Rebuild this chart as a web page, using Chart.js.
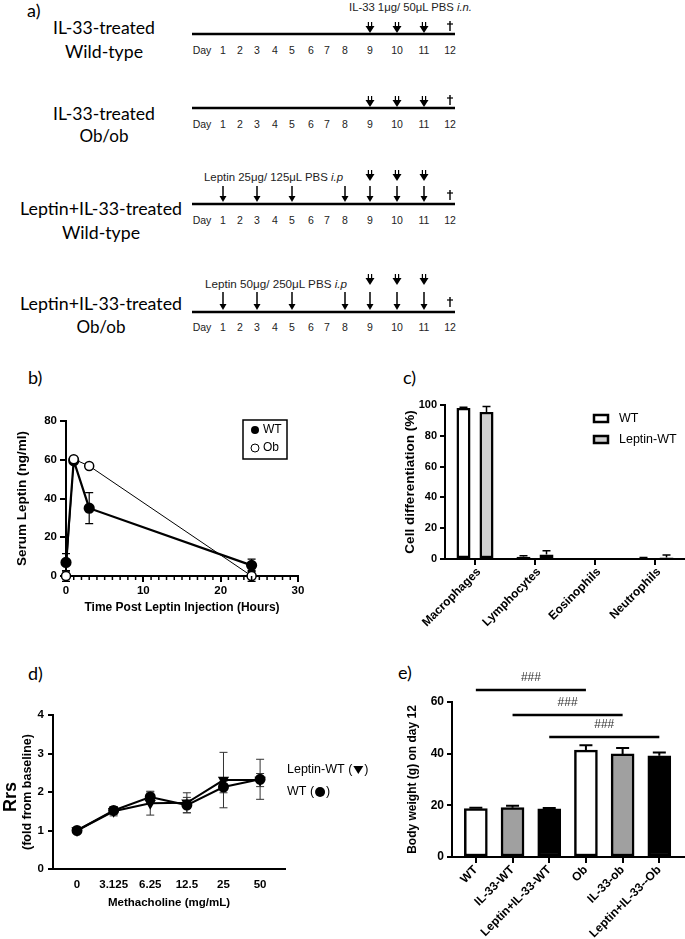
<!DOCTYPE html>
<html>
<head>
<meta charset="utf-8">
<script src="https://cdn.jsdelivr.net/npm/chart.js@4/dist/chart.umd.min.js"></script>
<style>
  body { margin: 0; background: #fff; width: 685px; height: 939px; position: relative; overflow: hidden; }
  svg, canvas { position: absolute; }
</style>
</head>
<body>
<svg id="sch" width="685" height="939" style="left:0;top:0"></svg>
<canvas id="cb" width="340" height="240" style="left:0;top:380px"></canvas>
<canvas id="cc" width="345" height="260" style="left:340px;top:370px"></canvas>
<canvas id="cd" width="385" height="280" style="left:0;top:640px"></canvas>
<canvas id="ce" width="300" height="299" style="left:385px;top:640px"></canvas>
<script>
// ---- a) dosing schedule ----
const dayLabels = ['Day', '1', '2', '3', '4', '5', '6', '7', '8', '9', '10', '11', '12'];
const il33Days = [9, 10, 11];
const leptinDays = [1, 3, 5, 8, 9, 10, 11];

// ---- b) serum leptin ----
const hoursWT = [0, 1, 3, 24];
const leptinWT = [7, 59.5, 35, 5.5];
const leptinWTErr = [4.5, 1, 8, 3.2];
const hoursOb = [0, 1, 3, 24];
const leptinOb = [0, 60.3, 56.8, 0];
const leptinObErr = [2.8, 0.5, 0.5, 2.8];

// ---- c) cell differentiation ----
const cellTypes = ['Macrophages', 'Lymphocytes', 'Eosinophils', 'Neutrophils'];
const cellWT = [98, 1.5, 0, 0.5];
const cellWTErr = [0.6, 0.6, 0, 0.5];
const cellLep = [95.5, 3, 0, 1];
const cellLepErr = [3.5, 2.3, 0, 1.6];

// ---- d) airway resistance ----
const mchDoses = ['0', '3.125', '6.25', '12.5', '25', '50'];
const rrsWT = [1, 1.52, 1.87, 1.66, 2.13, 2.33];
const rrsWTErr = [0.02, 0.1, 0.13, 0.2, 0.15, 0.52];
const rrsLep = [1, 1.5, 1.71, 1.72, 2.31, 2.31];
const rrsLepErr = [0.02, 0.12, 0.31, 0.26, 0.72, 0.17];

// ---- e) body weight ----
const groups = ['WT', 'IL-33-WT', 'Leptin+IL-33-WT', 'Ob', 'IL-33-ob', 'Leptin+IL-33--Ob'];
const weight = [18.7, 19.1, 18.6, 41.4, 39.9, 39.2];
const weightErr = [0.4, 0.7, 0.4, 1.9, 2.3, 1.3];
const sigPairs = [[0, 3], [1, 4], [2, 5]];
const sigLabels = ['###', '###', '###'];
const sigLevels = [64.6, 55, 46.5];

/*------------------------------------ SCHEMATIC -----------------------------------*/
const svg = document.getElementById('sch');
function add(tag, attrs, text, parent) {
    const n = document.createElementNS('http://www.w3.org/2000/svg', tag);
    for (const k in attrs) n.setAttribute(k, attrs[k]);
    if (text != null) n.textContent = text;
    (parent || svg).appendChild(n);
    return n;
}
const dayX = [202, 223, 240, 257, 275, 292, 311, 327, 345, 370, 397, 424, 450];
const LABEL_FONT = "Lato, 'Open Sans', sans-serif";
const NARROW = "'Liberation Sans Narrow', 'Liberation Sans', Arial, sans-serif";

function label(txt, x, y, w) {
    add('text', { x: x, y: y, 'font-family': LABEL_FONT, 'font-size': 18, 'text-anchor': 'middle',
        'dominant-baseline': 'central', textLength: w, lengthAdjust: 'spacingAndGlyphs', fill: '#000' }, txt);
}
function note(txt, it, x, y, w) {
    const t = add('text', { x: x, y: y, 'font-family': NARROW, 'font-size': 11.5, 'dominant-baseline': 'central',
        textLength: w, lengthAdjust: 'spacingAndGlyphs', fill: '#222' });
    add('tspan', {}, txt, t);
    add('tspan', { 'font-style': 'italic' }, it, t);
}
function dblArrow(x, y0) {
    add('line', { x1: x - 1.6, y1: y0, x2: x - 1.6, y2: y0 + 5, stroke: '#000', 'stroke-width': 1.2 });
    add('line', { x1: x + 1.6, y1: y0, x2: x + 1.6, y2: y0 + 5, stroke: '#000', 'stroke-width': 1.2 });
    add('polygon', { points: `${x - 4.5},${y0 + 4} ${x + 4.5},${y0 + 4} ${x},${y0 + 11}`, fill: '#000' });
}
function arrow(x, y0, y1) {
    add('line', { x1: x, y1: y0, x2: x, y2: y1 - 5, stroke: '#000', 'stroke-width': 1.5 });
    add('polygon', { points: `${x - 3.5},${y1 - 6} ${x + 3.5},${y1 - 6} ${x},${y1}`, fill: '#000' });
}
function dagger(x, y) {
    add('line', { x1: x, y1: y - 5, x2: x, y2: y + 5, stroke: '#000', 'stroke-width': 1.4 });
    add('line', { x1: x - 3, y1: y - 2, x2: x + 3, y2: y - 2, stroke: '#000', 'stroke-width': 1.2 });
}

const rows = [
    { l1: 'IL-33-treated', w1: 102, l2: 'Wild-type', w2: 78, cx: 104, ly: [27, 51], lineY: 34, dblY: 22, dagY: 26, daysY: 50,
      note: ['IL-33 1μg/ 50μL PBS ', 'i.n.', 349, 7, 123] },
    { l1: 'IL-33-treated', w1: 102, l2: 'Ob/ob', w2: 49, cx: 104, ly: [113, 135], lineY: 108, dblY: 96, dagY: 100, daysY: 124 },
    { l1: 'Leptin+IL-33-treated', w1: 162, l2: 'Wild-type', w2: 78, cx: 101, ly: [208, 232], lineY: 204, dblY: 170, singleY: [186, 202], dagY: 195, daysY: 220,
      note: ['Leptin 25μg/ 125μL PBS ', 'i.p', 204, 177, 139] },
    { l1: 'Leptin+IL-33-treated', w1: 162, l2: 'Ob/ob', w2: 49, cx: 101, ly: [303, 326], lineY: 312, dblY: 274, singleY: [292, 310], dagY: 302, daysY: 327,
      note: ['Leptin 50μg/ 250μL PBS ', 'i.p', 205, 284, 142] }
];

rows.forEach(r => {
    label(r.l1, r.cx, r.ly[0], r.w1);
    label(r.l2, r.cx, r.ly[1], r.w2);
    add('line', { x1: 192, y1: r.lineY, x2: 455, y2: r.lineY, stroke: '#000', 'stroke-width': 2.6 });
    dayLabels.forEach((d, i) => {
        add('text', { x: dayX[i], y: r.daysY, 'font-family': NARROW, 'font-size': 10.5, 'text-anchor': 'middle',
            'dominant-baseline': 'central', fill: '#222' }, d);
    });
    il33Days.forEach(d => dblArrow(dayX[d], r.dblY));
    if (r.singleY) leptinDays.forEach(d => arrow(dayX[d], r.singleY[0], r.singleY[1]));
    dagger(450, r.dagY);
    if (r.note) note(r.note[0], r.note[1], r.note[2], r.note[3], r.note[4]);
});

// panel letters
[['a)', 27, 10], ['b)', 28, 377], ['c)', 403, 377], ['d)', 28, 673], ['e)', 398, 672]].forEach(p => {
    add('text', { x: p[1], y: p[2], 'font-family': LABEL_FONT, 'font-size': 18, 'dominant-baseline': 'central', fill: '#000' }, p[0]);
});

/*------------------------------------ CHART HELPERS -----------------------------------*/
Chart.defaults.font.family = "'Liberation Sans', Arial, sans-serif";
Chart.defaults.color = '#000';

const errorBars = {
    id: 'errorBars',
    paint(chart, front) {
        const ctx = chart.ctx, ys = chart.scales.y;
        chart.data.datasets.forEach((ds, i) => {
            if (!ds.err || !!ds.errFront !== front) return;
            const meta = chart.getDatasetMeta(i);
            const cap = ds.capW || 4;
            ctx.save();
            ctx.strokeStyle = ds.errColor || '#000';
            ctx.lineWidth = ds.errWidth || 1;
            meta.data.forEach((pt, j) => {
                const e = ds.err[j];
                if (!e) return;
                const raw = ds.data[j];
                const v = typeof raw === 'object' ? raw.y : raw;
                const yTop = ys.getPixelForValue(v + e);
                const yBot = ds.errUpOnly ? pt.y : ys.getPixelForValue(v - e);
                ctx.beginPath();
                ctx.moveTo(pt.x, yBot); ctx.lineTo(pt.x, yTop);
                ctx.moveTo(pt.x - cap, yTop); ctx.lineTo(pt.x + cap, yTop);
                if (!ds.errUpOnly) { ctx.moveTo(pt.x - cap, yBot); ctx.lineTo(pt.x + cap, yBot); }
                ctx.stroke();
            });
            ctx.restore();
        });
    },
    beforeDatasetsDraw(chart) { this.paint(chart, false); },
    afterDatasetsDraw(chart) { this.paint(chart, true); }
};

function axis(o) {
    return Object.assign({
        grid: { drawOnChartArea: false, color: '#000', lineWidth: 2, tickWidth: 2, tickLength: 5 },
        border: { color: '#000', width: 2 }
    }, o);
}
const bold = s => ({ size: s, weight: 'bold' });

/*------------------------------------ b) -----------------------------------*/
new Chart(document.getElementById('cb'), {
    type: 'line',
    data: {
        datasets: [
            { label: 'Ob', data: hoursOb.map((h, i) => ({ x: h, y: leptinOb[i] })), err: leptinObErr, errWidth: 1.2,
              borderColor: '#000', borderWidth: 1, pointRadius: 4.5, pointBackgroundColor: '#fff',
              pointBorderColor: '#000', pointBorderWidth: 1.5, clip: false },
            { label: 'WT', data: hoursWT.map((h, i) => ({ x: h, y: leptinWT[i] })), err: leptinWTErr, errWidth: 1.2,
              borderColor: '#000', borderWidth: 2.2, pointRadius: 4.5, pointBackgroundColor: '#000',
              pointBorderColor: '#000', clip: false }
        ]
    },
    options: {
        responsive: false, animation: false,
        layout: { padding: { left: 0, top: 41, right: 42, bottom: 0 } },
        plugins: { legend: { display: false }, tooltip: { enabled: false } },
        scales: {
            x: axis({ type: 'linear', min: 0, max: 30,
                grid: { drawOnChartArea: false, color: '#000', lineWidth: 2, tickWidth: 2, tickLength: 6 },
                ticks: { stepSize: 10, font: bold(11.5), color: '#000', padding: 2 },
                title: { display: true, text: 'Time Post Leptin Injection (Hours)', font: bold(12), color: '#000', padding: { top: 0, bottom: 5 } },
                afterFit: s => { s.height = 44; } }),
            y: axis({ min: 0, max: 80,
                ticks: { stepSize: 20, font: bold(11.5), color: '#000', padding: 3 },
                grid: { drawOnChartArea: false, color: '#000', lineWidth: 2, tickWidth: 2, tickLength: 6 },
                title: { display: true, text: 'Serum Leptin (ng/ml)', font: bold(13.5), color: '#000', padding: { top: 14, bottom: 0 } },
                afterFit: s => { s.width = 66; } })
        }
    },
    plugins: [errorBars, {
        id: 'minorAndLegend',
        afterDraw(chart) {
            const ctx = chart.ctx, xs = chart.scales.x, y0 = chart.chartArea.bottom;
            ctx.save();
            ctx.strokeStyle = '#000'; ctx.lineWidth = 1.5;
            for (let v = 1; v < 30; v++) {
                if (v % 10 === 0) continue;
                const px = xs.getPixelForValue(v);
                ctx.beginPath(); ctx.moveTo(px, y0); ctx.lineTo(px, y0 + 4); ctx.stroke();
            }
            // boxed legend
            ctx.lineWidth = 1.5;
            ctx.strokeRect(243, 40, 44, 39);
            ctx.beginPath(); ctx.arc(255, 50, 4, 0, Math.PI * 2); ctx.fillStyle = '#000'; ctx.fill();
            ctx.beginPath(); ctx.arc(255, 68, 4, 0, Math.PI * 2); ctx.lineWidth = 1; ctx.stroke();
            ctx.font = "12px 'Liberation Sans', Arial"; ctx.textBaseline = 'middle'; ctx.fillStyle = '#000';
            ctx.fillText('WT', 263, 50);
            ctx.fillText('Ob', 263, 68);
            ctx.restore();
        }
    }]
});

/*------------------------------------ c) -----------------------------------*/
new Chart(document.getElementById('cc'), {
    type: 'bar',
    data: {
        labels: cellTypes,
        datasets: [
            { label: 'WT', data: cellWT, err: cellWTErr, errUpOnly: true, errFront: true, errWidth: 1.5,
              backgroundColor: '#fff', borderColor: '#000', borderWidth: 2.5, borderSkipped: false,
              barPercentage: 0.61, categoryPercentage: 0.767 },
            { label: 'Leptin-WT', data: cellLep, err: cellLepErr, errUpOnly: true, errFront: true, errWidth: 1.5,
              backgroundColor: '#d0d0d0', borderColor: '#000', borderWidth: 2.5, borderSkipped: false,
              barPercentage: 0.61, categoryPercentage: 0.767 }
        ]
    },
    options: {
        responsive: false, animation: false,
        layout: { padding: { left: 60, top: 35, right: 0, bottom: 0 } },
        plugins: { legend: { display: false }, tooltip: { enabled: false } },
        scales: {
            x: axis({
                grid: { drawOnChartArea: false, offset: false, color: '#000', lineWidth: 2, tickWidth: 2, tickLength: 6 },
                ticks: { display: false },
                afterFit: s => { s.height = 71; } }),
            y: axis({ min: 0, max: 100,
                ticks: { stepSize: 20, font: bold(11), color: '#000', padding: 3 },
                title: { display: true, text: 'Cell differentiation (%)', font: bold(13.5), color: '#000', padding: { top: 2, bottom: 0 } },
                afterFit: s => { s.width = 45; } })
        }
    },
    plugins: [errorBars, {
        id: 'legendC',
        afterDraw(chart) {
            const ctx = chart.ctx, xs = chart.scales.x, yb = chart.chartArea.bottom;
            ctx.save();
            // rotated category labels at 45 degrees, ending at each tick
            ctx.fillStyle = '#000'; ctx.font = "bold 12px 'Liberation Sans', Arial";
            ctx.textAlign = 'right'; ctx.textBaseline = 'middle';
            cellTypes.forEach((c, i) => {
                ctx.save();
                ctx.translate(xs.getPixelForValue(i) + 4, yb + 11);
                ctx.rotate(-Math.PI / 4);
                ctx.fillText(c, 0, 0);
                ctx.restore();
            });
            ctx.lineWidth = 2.5; ctx.strokeStyle = '#000';
            ctx.fillStyle = '#fff'; ctx.fillRect(254, 45, 14, 7); ctx.strokeRect(254, 45, 14, 7);
            ctx.fillStyle = '#d0d0d0'; ctx.fillRect(254, 66, 14, 7); ctx.strokeRect(254, 66, 14, 7);
            ctx.fillStyle = '#000'; ctx.font = "12.5px 'Liberation Sans', Arial"; ctx.textBaseline = 'middle';
            ctx.textAlign = 'left';
            ctx.fillText('WT', 279, 48.5);
            ctx.fillText('Leptin-WT', 279, 69.5);
            ctx.restore();
        }
    }]
});

/*------------------------------------ d) -----------------------------------*/
new Chart(document.getElementById('cd'), {
    type: 'line',
    data: {
        datasets: [
            { label: 'Leptin-WT', data: rrsLep.map((v, i) => ({ x: i, y: v })), err: rrsLepErr, errColor: '#333', errWidth: 1,
              borderColor: '#000', borderWidth: 2, pointStyle: 'triangle', rotation: 180, pointRadius: 4.5,
              pointBackgroundColor: '#000', pointBorderColor: '#000', clip: false },
            { label: 'WT', data: rrsWT.map((v, i) => ({ x: i, y: v })), err: rrsWTErr, errColor: '#333', errWidth: 1,
              borderColor: '#000', borderWidth: 2, pointRadius: 4.5,
              pointBackgroundColor: '#000', pointBorderColor: '#000', clip: false }
        ]
    },
    options: {
        responsive: false, animation: false,
        layout: { padding: { left: 0, top: 75, right: 100, bottom: 0 } },
        plugins: { legend: { display: false }, tooltip: { enabled: false } },
        scales: {
            x: axis({ type: 'linear', min: -0.656, max: 5.68,
                grid: { drawOnChartArea: false, drawTicks: false },
                afterBuildTicks: s => { s.ticks = mchDoses.map((_, i) => ({ value: i })); },
                ticks: { autoSkip: false, font: bold(11.5), color: '#000', padding: 9, callback: v => mchDoses[v] },
                title: { display: true, text: 'Methacholine (mg/mL)', font: bold(11.5), color: '#000', padding: { top: 0, bottom: 10 } },
                afterFit: s => { s.height = 51; } }),
            y: axis({ min: 0, max: 4,
                ticks: { stepSize: 1, font: bold(11.5), color: '#000', padding: 4 },
                afterFit: s => { s.width = 53; } })
        }
    },
    plugins: [errorBars, {
        id: 'titlesD',
        afterDraw(chart) {
            const ctx = chart.ctx;
            ctx.save();
            ctx.fillStyle = '#000'; ctx.textAlign = 'center'; ctx.textBaseline = 'middle';
            ctx.translate(11, 157); ctx.rotate(-Math.PI / 2);
            ctx.font = "bold 18px 'Liberation Sans', Arial"; ctx.fillText('Rrs', 0, 0);
            ctx.restore();
            ctx.save();
            ctx.fillStyle = '#000'; ctx.textAlign = 'center'; ctx.textBaseline = 'middle';
            ctx.translate(28, 152); ctx.rotate(-Math.PI / 2);
            ctx.font = "bold 12.5px 'Liberation Sans', Arial"; ctx.fillText('(fold from baseline)', 0, 0);
            ctx.restore();
            // legend with drawn symbols
            ctx.save();
            ctx.fillStyle = '#000'; ctx.textBaseline = 'middle'; ctx.font = "12.5px 'Liberation Sans', Arial";
            let x = 287;
            ctx.fillText('Leptin-WT (', x, 130);
            x += ctx.measureText('Leptin-WT (').width + 1;
            ctx.beginPath(); ctx.moveTo(x, 126); ctx.lineTo(x + 10, 126); ctx.lineTo(x + 5, 134); ctx.closePath(); ctx.fill();
            ctx.fillText(')', x + 11, 130);
            x = 287;
            ctx.fillText('WT (', x, 152);
            x += ctx.measureText('WT (').width + 1;
            ctx.beginPath(); ctx.arc(x + 5, 152, 5, 0, Math.PI * 2); ctx.fill();
            ctx.fillText(')', x + 11, 152);
            ctx.restore();
        }
    }]
});

/*------------------------------------ e) -----------------------------------*/
new Chart(document.getElementById('ce'), {
    type: 'bar',
    data: {
        datasets: [
            { label: 'Body weight', data: weight.map((v, i) => ({ x: i, y: v })), err: weightErr, errUpOnly: true, errFront: true,
              errWidth: 2, capW: 6.5,
              backgroundColor: ['#fff', '#a0a0a0', '#000', '#fff', '#a0a0a0', '#000'],
              borderColor: '#000', borderWidth: 2.5, borderSkipped: false, barThickness: 23 }
        ]
    },
    options: {
        responsive: false, animation: false,
        layout: { padding: { left: 14, top: 62, right: 0, bottom: 0 } },
        plugins: { legend: { display: false }, tooltip: { enabled: false } },
        scales: {
            x: axis({ type: 'linear', min: -0.65, max: 5.7, offset: false,
                grid: { drawOnChartArea: false, offset: false, color: '#000', lineWidth: 2, tickWidth: 2, tickLength: 6 },
                afterBuildTicks: s => { s.ticks = groups.map((_, i) => ({ value: i })); },
                ticks: { autoSkip: false, minRotation: 45, maxRotation: 45, font: bold(12), color: '#000', padding: 0,
                         callback: v => groups[v] },
                afterFit: s => { s.height = 82; } }),
            y: axis({ min: 0, max: 60,
                ticks: { stepSize: 20, font: bold(12), color: '#000', padding: 3 },
                title: { display: true, text: 'Body weight (g) on day 12', font: bold(12), color: '#000', padding: { top: 6, bottom: 0 } },
                afterFit: s => { s.width = 53; } })
        }
    },
    plugins: [errorBars, {
        id: 'significance',
        afterDraw(chart) {
            const ctx = chart.ctx, xs = chart.scales.x, ys = chart.scales.y;
            ctx.save();
            ctx.strokeStyle = '#000'; ctx.lineWidth = 2.5;
            ctx.fillStyle = '#333'; ctx.font = "12px 'Liberation Sans', Arial";
            ctx.textAlign = 'center'; ctx.textBaseline = 'middle';
            sigPairs.forEach((p, k) => {
                const x1 = xs.getPixelForValue(p[0]), x2 = xs.getPixelForValue(p[1]);
                const y = ys.getPixelForValue(sigLevels[k]);
                ctx.beginPath(); ctx.moveTo(x1, y); ctx.lineTo(x2, y); ctx.stroke();
                ctx.fillText(sigLabels[k], (x1 + x2) / 2, y - 12);
            });
            ctx.restore();
        }
    }]
});
</script>
</body>
</html>
